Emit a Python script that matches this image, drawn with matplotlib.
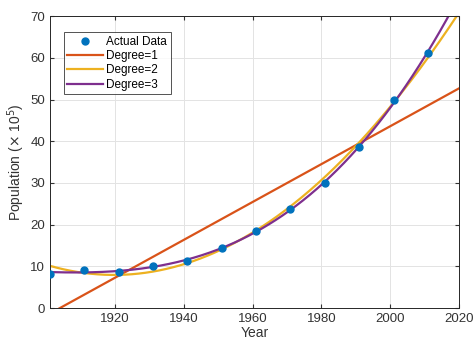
import numpy as np
import matplotlib
matplotlib.use("Agg")
import matplotlib.pyplot as plt

years = np.array([1901, 1911, 1921, 1931, 1941, 1951, 1961, 1971, 1981, 1991, 2001, 2011])
population = np.array([8.3, 9.2, 8.7, 10.1, 11.3, 14.3, 18.5, 23.7, 29.9, 38.6, 49.9, 61.1])
degrees = [1, 2, 3]
fit_colors = ['#D95319', '#EDB120', '#7E2F8E']
xticks = [1920, 1940, 1960, 1980, 2000, 2020]
yticks = [0, 10, 20, 30, 40, 50, 60, 70]

plt.rcParams['font.family'] = ['Liberation Sans', 'DejaVu Sans']
fig = plt.figure(figsize=(4.75, 3.42), dpi=100)
ax = fig.add_axes([0.105, 0.099, 0.861, 0.854])

ax.plot(years, population, 'o', color='#0072BD', markersize=5, label='Actual Data', zorder=3)
xs = np.linspace(1901, 2020, 300)
for d, c in zip(degrees, fit_colors):
    p = np.polyfit(years - 1950, population, d)
    ax.plot(xs, np.polyval(p, xs - 1950), color=c, lw=1.6, label=f'Degree={d}')

ax.set_xlim(1901, 2020)
ax.set_ylim(0, 70)
ax.set_xticks(xticks)
ax.set_yticks(yticks)
ax.grid(True, color='#e3e3e3', lw=0.7)
ax.set_axisbelow(True)
ax.tick_params(direction='in', top=True, right=True, labelsize=9.5, colors='#333333', length=3)
for s in ax.spines.values():
    s.set_color('#262626')
    s.set_linewidth(0.7)
ax.set_xlabel('Year', fontsize=10, color='#333333', labelpad=1)
ax.set_ylabel(r'Population ($\times$ 10$^5$)', fontsize=10, color='#333333', labelpad=2)
leg = ax.legend(loc='upper left', bbox_to_anchor=(0.02, 0.965), fontsize=8.5, frameon=True,
                fancybox=False, edgecolor='#262626', handlelength=3.0, borderpad=0.3,
                labelspacing=0.2, handletextpad=0.3)
leg.get_frame().set_linewidth(0.7)
fig.savefig('out.png', dpi=100)
